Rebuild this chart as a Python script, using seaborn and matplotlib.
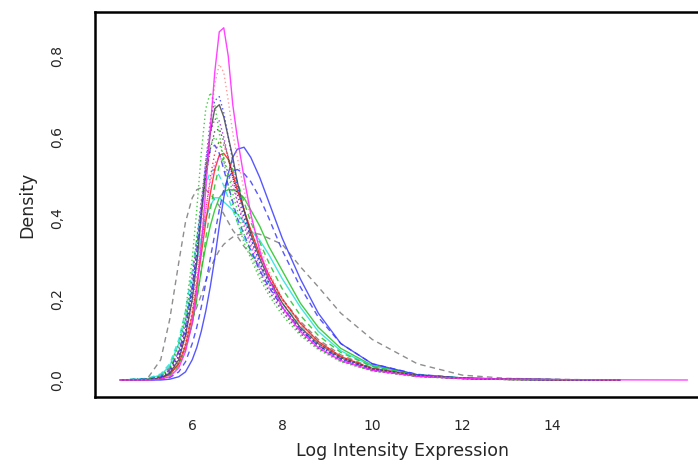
import numpy as np
import pandas as pd
import matplotlib
matplotlib.use("Agg")
import matplotlib.pyplot as plt
import seaborn as sns

# shared grid of log-intensity values (x) the densities were read at
x_grid = [4.4, 5.0, 5.3, 5.5, 5.7, 5.85, 6.0, 6.1, 6.2, 6.3, 6.4, 6.5, 6.6, 6.7,
          6.8, 6.9, 7.0, 7.15, 7.3, 7.5, 7.7, 8.0, 8.4, 8.8, 9.3, 10.0, 11.0,
          12.0, 13.0, 14.5, 15.5, 17.0]
nan = np.nan

# density of each array
d_salmon_dot = [0, 0, 0.003, 0.01, 0.035, 0.08, 0.16, 0.25, 0.37, 0.50, 0.63, 0.73, 0.78, 0.76,
                0.69, 0.61, 0.55, 0.47, 0.40, 0.33, 0.27, 0.20, 0.135, 0.09, 0.055, 0.027, 0.01,
                0.004, 0.0015, 0.0005, 0, nan]
d_green_dot = [0, 0.002, 0.01, 0.03, 0.09, 0.17, 0.30, 0.42, 0.56, 0.67, 0.71, 0.68, 0.61, 0.54,
               0.48, 0.43, 0.39, 0.34, 0.30, 0.25, 0.21, 0.16, 0.11, 0.075, 0.045, 0.022, 0.008,
               0.003, 0.001, 0.0003, 0, nan]
d_blue_dot = [0, 0.001, 0.006, 0.02, 0.06, 0.12, 0.22, 0.31, 0.42, 0.54, 0.64, 0.69, 0.70, 0.66,
              0.60, 0.54, 0.48, 0.41, 0.35, 0.29, 0.24, 0.18, 0.125, 0.085, 0.052, 0.026, 0.01,
              0.004, 0.0015, 0.0004, 0, nan]
d_black_solid = [0, 0.001, 0.005, 0.017, 0.05, 0.11, 0.20, 0.29, 0.40, 0.51, 0.61, 0.67, 0.68, 0.65,
                 0.60, 0.55, 0.49, 0.42, 0.36, 0.30, 0.25, 0.19, 0.13, 0.09, 0.055, 0.028, 0.011,
                 0.004, 0.0015, 0.0004, 0, nan]
d_red_dot = [0, 0.001, 0.005, 0.015, 0.045, 0.09, 0.17, 0.24, 0.33, 0.42, 0.50, 0.56, 0.59, 0.58,
             0.55, 0.51, 0.47, 0.42, 0.37, 0.31, 0.26, 0.20, 0.14, 0.095, 0.058, 0.029, 0.011,
             0.004, 0.0015, 0.0004, 0, nan]
d_blue_dash = [0, 0.002, 0.008, 0.025, 0.07, 0.13, 0.23, 0.32, 0.42, 0.51, 0.57, 0.58, 0.56, 0.52,
               0.48, 0.44, 0.40, 0.36, 0.32, 0.27, 0.23, 0.18, 0.125, 0.085, 0.052, 0.026, 0.01,
               0.004, 0.0015, 0.0004, 0, nan]
d_blue_solid = [0, 0, 0, 0.002, 0.008, 0.02, 0.05, 0.08, 0.12, 0.17, 0.23, 0.30, 0.38, 0.45,
                0.51, 0.55, 0.57, 0.575, 0.55, 0.50, 0.44, 0.35, 0.25, 0.165, 0.09, 0.04, 0.013,
                0.005, 0.002, 0.0005, 0, nan]
d_blue_dash2 = [0, 0, 0.002, 0.006, 0.02, 0.045, 0.09, 0.13, 0.18, 0.24, 0.30, 0.36, 0.42, 0.47,
                0.50, 0.515, 0.52, 0.51, 0.49, 0.45, 0.40, 0.32, 0.23, 0.155, 0.09, 0.04, 0.014,
                0.005, 0.002, 0.0005, 0, nan]
d_green_solid = [0, 0.001, 0.005, 0.015, 0.04, 0.08, 0.14, 0.20, 0.27, 0.33, 0.38, 0.42, 0.45, 0.465,
                 0.47, 0.47, 0.465, 0.45, 0.42, 0.38, 0.33, 0.27, 0.19, 0.13, 0.078, 0.036, 0.013,
                 0.005, 0.002, 0.0005, 0, nan]
d_cyan_solid = [0, 0.003, 0.012, 0.035, 0.09, 0.15, 0.23, 0.29, 0.35, 0.40, 0.43, 0.45, 0.45, 0.44,
                0.43, 0.42, 0.41, 0.39, 0.37, 0.345, 0.31, 0.25, 0.18, 0.12, 0.072, 0.034, 0.012,
                0.005, 0.002, 0.0005, 0, nan]
d_grey_broad = [0, 0.003, 0.012, 0.03, 0.07, 0.11, 0.15, 0.18, 0.21, 0.245, 0.275, 0.30, 0.32, 0.335,
                0.345, 0.353, 0.358, 0.362, 0.364, 0.36, 0.35, 0.335, 0.28, 0.23, 0.165, 0.10, 0.04,
                0.012, 0.004, 0.001, 0, nan]
d_grey_early = [0, 0.003, 0.05, 0.15, 0.29, 0.39, 0.45, 0.47, 0.475, 0.47, 0.46, 0.445, 0.43, 0.41,
                0.39, 0.37, 0.355, 0.33, 0.31, 0.28, 0.25, 0.20, 0.145, 0.10, 0.062, 0.03, 0.011,
                0.004, 0.0015, 0.0005, 0, nan]
d_purple_dot = [0, 0.002, 0.008, 0.025, 0.07, 0.14, 0.25, 0.34, 0.44, 0.54, 0.61, 0.645, 0.64, 0.60,
                0.55, 0.50, 0.44, 0.38, 0.33, 0.27, 0.22, 0.17, 0.115, 0.078, 0.047, 0.023, 0.009,
                0.0035, 0.0013, 0.0004, 0, nan]
d_cyan_dash = [0, 0.004, 0.015, 0.04, 0.10, 0.17, 0.27, 0.35, 0.42, 0.48, 0.515, 0.52, 0.505, 0.48,
               0.45, 0.42, 0.39, 0.35, 0.32, 0.28, 0.24, 0.19, 0.135, 0.09, 0.055, 0.027, 0.01,
               0.004, 0.0015, 0.0004, 0, nan]
d_black_dot = [0, 0.002, 0.007, 0.02, 0.06, 0.12, 0.22, 0.31, 0.41, 0.50, 0.57, 0.615, 0.62, 0.59,
               0.55, 0.50, 0.46, 0.40, 0.35, 0.29, 0.24, 0.18, 0.125, 0.085, 0.052, 0.026, 0.01,
               0.004, 0.0015, 0.0004, 0, nan]
d_green_dash = [0, 0.001, 0.004, 0.012, 0.035, 0.075, 0.14, 0.20, 0.27, 0.35, 0.42, 0.48, 0.53, 0.55,
                0.545, 0.52, 0.49, 0.44, 0.39, 0.34, 0.29, 0.225, 0.16, 0.11, 0.068, 0.033, 0.012,
                0.005, 0.002, 0.0005, 0, nan]
d_magenta_dot = [0, 0.002, 0.007, 0.02, 0.055, 0.11, 0.19, 0.26, 0.34, 0.42, 0.49, 0.535, 0.55, 0.54,
                 0.51, 0.48, 0.44, 0.39, 0.34, 0.28, 0.23, 0.175, 0.12, 0.08, 0.048, 0.024, 0.009,
                 0.0035, 0.0013, 0.0004, 0, nan]
d_red_solid = [0, 0.001, 0.004, 0.013, 0.04, 0.085, 0.16, 0.23, 0.31, 0.39, 0.46, 0.52, 0.555, 0.56,
               0.545, 0.51, 0.47, 0.42, 0.37, 0.31, 0.26, 0.20, 0.14, 0.095, 0.058, 0.028, 0.01,
               0.004, 0.0015, 0.0004, 0, nan]
d_green_dot2 = [0, 0.002, 0.009, 0.028, 0.08, 0.15, 0.26, 0.35, 0.44, 0.52, 0.58, 0.60, 0.585, 0.55,
                0.51, 0.46, 0.42, 0.36, 0.31, 0.26, 0.22, 0.17, 0.115, 0.078, 0.047, 0.023, 0.009,
                0.0035, 0.0013, 0.0004, 0, nan]
d_magenta_solid = [0, 0, 0.002, 0.008, 0.03, 0.07, 0.14, 0.22, 0.33, 0.47, 0.62, 0.76, 0.86, 0.87,
                   0.80, 0.68, 0.60, 0.50, 0.41, 0.32, 0.25, 0.18, 0.12, 0.08, 0.048, 0.024, 0.009,
                   0.004, 0.002, 0.0008, 0.0004, 0.0]

dotted = (0, (1, 2))
dashed = (0, (4, 3))
curves = [
    (d_grey_broad, "#7a7a7a", dashed),
    (d_grey_early, "#7a7a7a", dashed),
    (d_green_solid, "#22c322", "-"),
    (d_cyan_solid, "#22e0e0", "-"),
    (d_cyan_dash, "#22e0e0", dashed),
    (d_blue_dash2, "#3a3aff", dashed),
    (d_blue_solid, "#3a3aff", "-"),
    (d_red_solid, "#ff2020", "-"),
    (d_green_dash, "#22c322", dashed),
    (d_magenta_dot, "#ff22ff", dotted),
    (d_red_dot, "#ff2020", dotted),
    (d_blue_dash, "#3a3aff", dashed),
    (d_green_dot2, "#22c322", dotted),
    (d_black_dot, "#333333", dotted),
    (d_purple_dot, "#9922cc", dotted),
    (d_black_solid, "#444444", "-"),
    (d_blue_dot, "#3a3aff", dotted),
    (d_green_dot, "#22c322", dotted),
    (d_salmon_dot, "#ff8a8a", dotted),
    (d_magenta_solid, "#ff22ff", "-"),
]

sns.set_style("white")
plt.rcParams["font.family"] = ["DejaVu Sans"]

fig = plt.figure(figsize=(6.98, 4.62), dpi=100)
ax = fig.add_axes([95 / 698, 65 / 462, 615 / 698, 385 / 462])

for vals, col, ls in curves:
    df = pd.DataFrame({"x": x_grid, "y": vals}).dropna()
    sns.lineplot(data=df, x="x", y="y", color=col, linestyle=ls,
                 linewidth=1.0, alpha=0.85, ax=ax)

ax.set_xlim(3.84, 17.5)
ax.set_ylim(-0.042, 0.909)

xt = [6, 8, 10, 12, 14]
yt = [0.0, 0.2, 0.4, 0.6, 0.8]
ax.set_xticks(xt)
ax.set_xticklabels([str(v) for v in xt], fontsize=10)
ax.set_yticks(yt)
ax.set_yticklabels([f"{v:.1f}".replace(".", ",") for v in yt],
                   rotation=90, va="center", fontsize=10)
ax.tick_params(length=0, pad=16)
ax.tick_params(axis="y", pad=22)

ax.set_xlabel("Log Intensity Expression", fontsize=12.5, labelpad=6)
ax.set_ylabel("Density", fontsize=12.5, labelpad=10)

for s in ax.spines.values():
    s.set_visible(True)
    s.set_color("black")
    s.set_linewidth(1.8)

fig.savefig("out.png", dpi=100)
